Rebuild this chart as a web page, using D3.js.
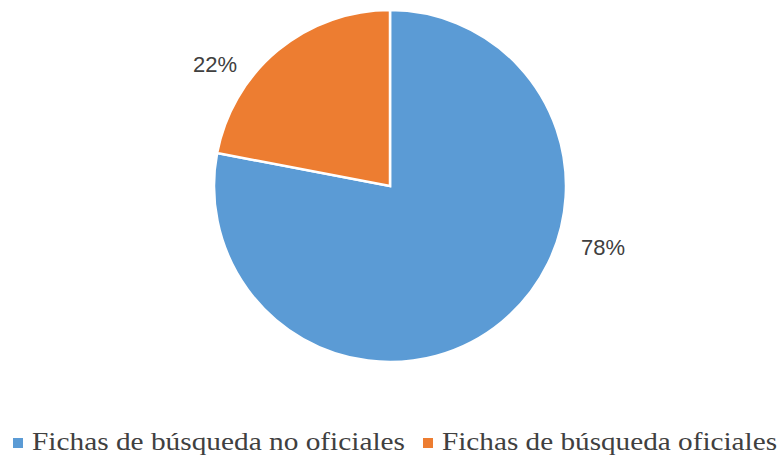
<!DOCTYPE html>
<html>
<head>
<meta charset="utf-8">
<script src="https://cdn.jsdelivr.net/npm/d3@7"></script>
<style>
  body { margin: 0; background: #fff; }
</style>
</head>
<body>
<div class="container"></div>
<script>
const categories = ['Fichas de búsqueda no oficiales', 'Fichas de búsqueda oficiales']
const values = [78, 22]
const labels = ['78%', '22%']
const colours = ['#5B9BD5', '#ED7D31']

let width = 781
let height = 456
let cx = 390
let cy = 186
let radius = 176

let svg = d3.select('.container')
    .append('svg')
    .attr('width', width)
    .attr('height', height)

let pie = d3.pie().sort(null).value(d => d)
let arcs = pie(values)
let arc = d3.arc().innerRadius(0).outerRadius(radius)

let g = svg.append('g').attr('transform', `translate(${cx},${cy})`)

g.selectAll('path')
    .data(arcs)
    .enter()
    .append('path')
    .attr('d', arc)
    .attr('fill', (d, i) => colours[i])
    .attr('stroke', '#fff')
    .attr('stroke-width', 2.5)

// labels sit outside the pie, placed by hand like the original
let labelPos = [[213, 69], [-175, -114]]
g.selectAll('text')
    .data(arcs)
    .enter()
    .append('text')
    .attr('x', (d, i) => labelPos[i][0])
    .attr('y', (d, i) => labelPos[i][1])
    .attr('text-anchor', 'middle')
    .attr('font-family', '"Liberation Sans", Arial, sans-serif')
    .attr('font-size', 22)
    .attr('fill', '#404040')
    .text((d, i) => labels[i])

let legend = svg.append('g').attr('transform', 'translate(0,450)')
let xs = [13, 423]
let lens = [373, 335]
categories.forEach((c, i) => {
    legend.append('rect')
        .attr('x', xs[i])
        .attr('y', -12)
        .attr('width', 10)
        .attr('height', 10)
        .attr('fill', colours[i])
    legend.append('text')
        .attr('x', xs[i] + 19)
        .attr('y', 0)
        .attr('font-family', '"Liberation Serif", "Times New Roman", serif')
        .attr('font-size', 26)
        .attr('fill', '#404040')
        .attr('textLength', lens[i])
        .attr('lengthAdjust', 'spacingAndGlyphs')
        .text(c)
})
</script>
</body>
</html>
